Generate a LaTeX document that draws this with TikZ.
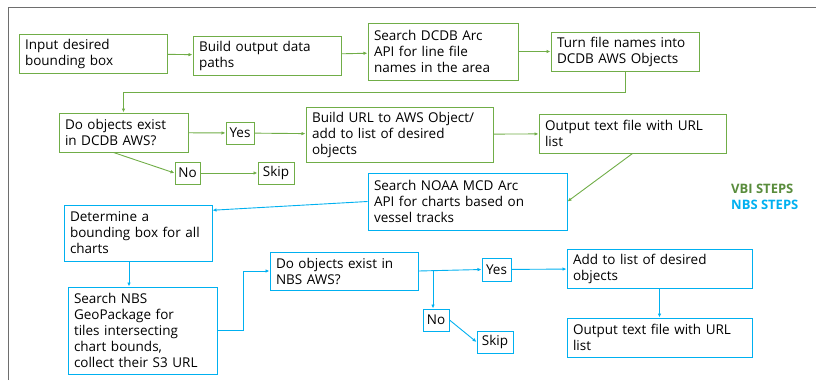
\documentclass[tikz,border=0pt]{standalone}
\usepackage{fontspec}
\setmainfont{Open Sans}
\usetikzlibrary{arrows.meta}

\definecolor{vbigreen}{RGB}{112,173,71}
\definecolor{vbitext}{RGB}{89,140,60}
\definecolor{nbsblue}{RGB}{0,176,240}
\definecolor{framegray}{RGB}{110,110,110}

\begin{document}
\begin{tikzpicture}[
	x=1pt, y=-1pt,
	vbi/.style={
		draw=vbigreen, line width=1pt, rectangle,
		font=\fontsize{13.5}{16}\selectfont, align=left,
		inner xsep=6pt, inner ysep=2pt
	},
	nbs/.style={
		draw=nbsblue, line width=1pt, rectangle,
		font=\fontsize{13.5}{16}\selectfont, align=left,
		inner xsep=6pt, inner ysep=2pt
	},
	tag/.style={align=center, inner xsep=2pt},
	varr/.style={-{Latex[length=4pt,width=3.5pt]}, vbigreen, line width=0.9pt},
	narr/.style={-{Latex[length=4pt,width=3.5pt]}, nbsblue, line width=0.9pt},
	legend/.style={font=\fontsize{13}{16}\selectfont\bfseries, anchor=west, inner sep=0pt},
	]
	
	\useasboundingbox (0,0) rectangle (816,380);
	\draw[framegray, line width=1pt] (8,380) -- (8,7) -- (816,7);
	
	% VBI steps, top row
	\node[vbi, text width=136pt, minimum height=39pt] (in)    at (93,53.5)   {Input desired\\bounding box};
	\node[vbi, text width=136pt, minimum height=39pt] (paths) at (267,55.5)  {Build output data\\paths};
	\node[vbi, text width=138pt, minimum height=57pt] (arc)   at (443,51.5)  {Search DCDB Arc\\API for line file\\names in the area};
	\node[vbi, text width=136pt, minimum height=39pt] (objs)  at (625,51.5)  {Turn file names into\\DCDB AWS Objects};
	
	% VBI steps, second row
	\node[vbi, text width=117pt, minimum height=39pt] (exist) at (123.5,132.5) {Do objects exist\\in DCDB AWS?};
	\node[vbi, tag, text width=24pt, minimum height=22pt] (yes) at (240,133) {Yes};
	\node[vbi, text width=175pt, minimum height=55pt] (url)   at (399.5,134.5) {Build URL to AWS Object/\\add to list of desired\\objects};
	\node[vbi, text width=175pt, minimum height=39pt] (out)   at (632.5,133.5) {Output text file with URL\\list};
	\node[vbi, tag, text width=21pt, minimum height=22pt] (no)   at (187.5,173) {No};
	\node[vbi, tag, text width=32pt, minimum height=22pt] (skip) at (276,173)   {Skip};
	
	% NBS steps
	\node[nbs, text width=187pt, minimum height=57pt] (noaa)  at (467.5,201.5) {Search NOAA MCD Arc\\API for charts based on\\vessel tracks};
	\node[nbs, text width=136pt, minimum height=56pt] (bbox)  at (138,233)     {Determine a\\bounding box for all\\charts};
	\node[nbs, text width=137pt, minimum height=87pt] (gpkg)  at (142.5,330.5) {Search NBS\\GeoPackage for\\tiles intersecting\\chart bounds,\\collect their S3 URL};
	\node[nbs, text width=136pt, minimum height=38pt] (nbsaws) at (344,271)    {Do objects exist in\\NBS AWS?};
	\node[nbs, tag, text width=25pt, minimum height=23pt] (yes2) at (496.5,269.5) {Yes};
	\node[nbs, text width=173pt, minimum height=39pt] (add)   at (659.5,268.5) {Add to list of desired\\objects};
	\node[nbs, text width=173pt, minimum height=39pt] (out2)  at (659.5,337.5) {Output text file with URL\\list};
	\node[nbs, tag, text width=22pt, minimum height=22pt] (no2)   at (436,320) {No};
	\node[nbs, tag, text width=32pt, minimum height=22pt] (skip2) at (495,342) {Skip};
	
	% Legend
	\node[legend, text=vbitext] (lvbi) at (731,189) {VBI STEPS};
	\node[legend, text=nbsblue] (lnbs) at (731,205) {NBS STEPS};
	
	% VBI arrows
	\coordinate (turn) at (123.5,92);
	\coordinate (fork) at (433,271);
	\draw[varr] (in)    -- (paths);
	\draw[varr] (paths) -- (arc);
	\draw[varr] (arc)   -- (objs);
	\draw[varr] (objs.south) |- (turn) -- (exist.north);
	\draw[varr] (exist) -- (yes);
	\draw[varr] (yes)   -- (url);
	\draw[varr] (url)   -- (out);
	\draw[varr] (out.south) -- (noaa.east);
	\draw[varr] ([xshift=-10pt]exist.south) -- (no.west);
	\draw[varr] (no)    -- (skip);
	
	% NBS arrows
	\draw[narr] (noaa.west) -- (bbox.17);
	\draw[narr] ([xshift=-9pt]bbox.south) -- ([xshift=-9pt]bbox.south |- gpkg.north);
	\draw[narr] (gpkg.east) -- ++(26,0) |- (nbsaws.west);
	\draw[narr] (nbsaws.east) -- (yes2.west);
	\draw[narr] (fork) -- (fork |- no2.north);
	\draw[narr] (yes2)  -- (add);
	\draw[narr] (add)   -- (out2);
	\draw[narr] (no2.east) -- (skip2.west);
	
\end{tikzpicture}
\end{document}
